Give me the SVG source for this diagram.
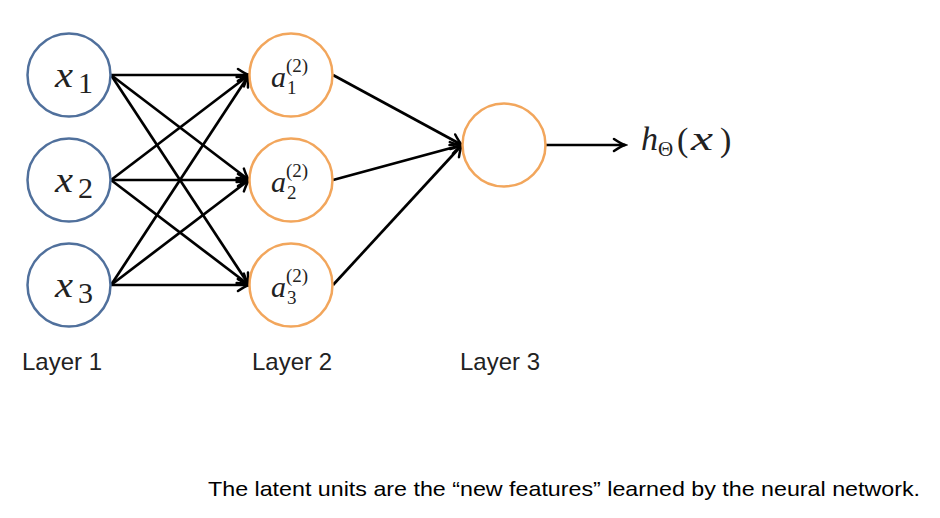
<svg xmlns="http://www.w3.org/2000/svg" width="940" height="518" viewBox="0 0 940 518">
<defs>
<marker id="arr" markerUnits="userSpaceOnUse" markerWidth="16" markerHeight="16" viewBox="-13 -8 16 16" refX="0" refY="0" orient="auto">
<path d="M-11,-6 Q-4,-1.3 0,0 Q-4,1.3 -11,6" fill="none" stroke="#000" stroke-width="2.5" stroke-linecap="round"/>
</marker>
<style>
.in{fill:#fff;stroke:#50709c;stroke-width:2.5}
.hid{fill:#fff;stroke:#f2a65c;stroke-width:2.5}
.m{font-family:"Liberation Serif",serif;font-style:italic;fill:#222}
.d{font-family:"Liberation Serif",serif;font-style:normal;fill:#222}
.lbl{font-family:"Liberation Sans",Arial,sans-serif;font-size:24px;fill:#222}
.cap{font-family:"Liberation Sans",Arial,sans-serif;font-size:21px;fill:#000}
.e{stroke:#000;stroke-width:2.7;fill:none;marker-end:url(#arr)}
</style>
</defs>
<rect width="940" height="518" fill="#fff"/>
<g id="connectors">
<line class="e" x1="111" y1="75" x2="249" y2="75"/>
<line class="e" x1="111" y1="75" x2="249" y2="180"/>
<line class="e" x1="111" y1="75" x2="249" y2="285"/>
<line class="e" x1="111" y1="180" x2="249" y2="75"/>
<line class="e" x1="111" y1="180" x2="249" y2="180"/>
<line class="e" x1="111" y1="180" x2="249" y2="285"/>
<line class="e" x1="111" y1="285" x2="249" y2="75"/>
<line class="e" x1="111" y1="285" x2="249" y2="180"/>
<line class="e" x1="111" y1="285" x2="249" y2="285"/>
<line class="e" x1="333" y1="75" x2="462" y2="145"/>
<line class="e" x1="333" y1="180" x2="462" y2="145"/>
<line class="e" x1="333" y1="285" x2="462" y2="145"/>
<line class="e" x1="546" y1="145" x2="625" y2="145"/>
</g>
<g id="x1"><circle class="in" cx="69" cy="75" r="41.5"/><text class="m" x="55" y="87" font-size="36" textLength="18" lengthAdjust="spacingAndGlyphs">x</text><text class="d" x="78" y="93" font-size="30">1</text></g>
<g id="x2"><circle class="in" cx="69" cy="180" r="41.5"/><text class="m" x="55" y="192" font-size="36" textLength="18" lengthAdjust="spacingAndGlyphs">x</text><text class="d" x="78" y="198" font-size="30">2</text></g>
<g id="x3"><circle class="in" cx="69" cy="285" r="41.5"/><text class="m" x="55" y="297" font-size="36" textLength="18" lengthAdjust="spacingAndGlyphs">x</text><text class="d" x="78" y="303" font-size="30">3</text></g>
<g id="a1"><circle class="hid" cx="291" cy="75" r="41.5"/><text class="m" x="271" y="87" font-size="30">a</text><text class="d" x="287" y="94" font-size="19">1</text><text class="d" x="286" y="72" font-size="19">(2)</text></g>
<g id="a2"><circle class="hid" cx="291" cy="180" r="41.5"/><text class="m" x="271" y="192" font-size="30">a</text><text class="d" x="287" y="199" font-size="19">2</text><text class="d" x="286" y="177" font-size="19">(2)</text></g>
<g id="a3"><circle class="hid" cx="291" cy="285" r="41.5"/><text class="m" x="271" y="297" font-size="30">a</text><text class="d" x="287" y="304" font-size="19">3</text><text class="d" x="286" y="282" font-size="19">(2)</text></g>
<g id="out"><circle class="hid" cx="504" cy="145" r="41.5"/></g>
<g id="output-label">
<text class="m" x="641" y="150" font-size="34">h</text>
<text class="d" x="658" y="156" font-size="21">Θ</text>
<text class="d" x="677" y="151" font-size="34">(</text>
<text class="m" x="691" y="150" font-size="34" textLength="22" lengthAdjust="spacingAndGlyphs">x</text>
<text class="d" x="720" y="151" font-size="34">)</text>
</g>
<g id="labels">
<text class="lbl" x="22" y="370" textLength="80" lengthAdjust="spacingAndGlyphs">Layer 1</text>
<text class="lbl" x="252" y="370" textLength="80" lengthAdjust="spacingAndGlyphs">Layer 2</text>
<text class="lbl" x="460" y="370" textLength="80" lengthAdjust="spacingAndGlyphs">Layer 3</text>
<text class="cap" x="208" y="496" textLength="712" lengthAdjust="spacingAndGlyphs">The latent units are the “new features” learned by the neural network.</text>
</g>
</svg>
